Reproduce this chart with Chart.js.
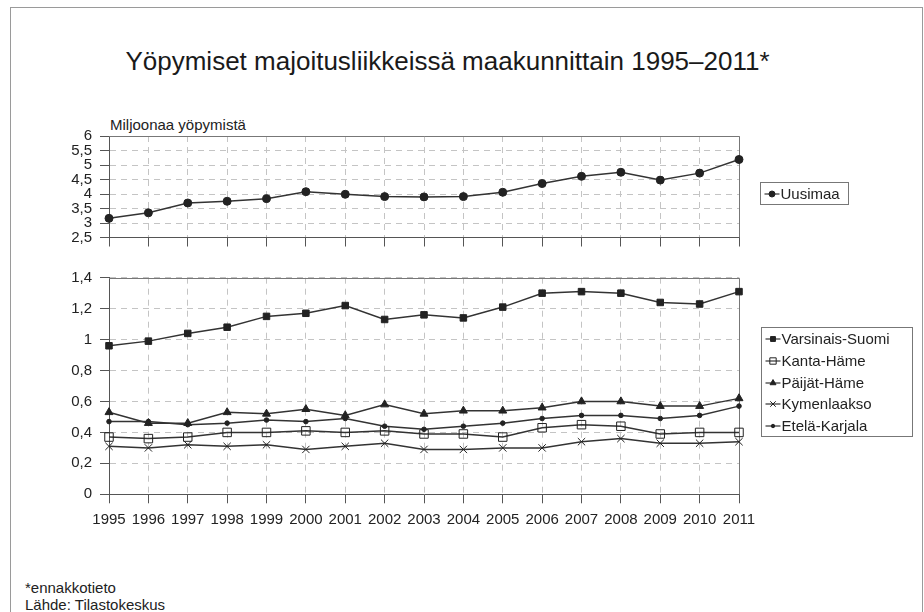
<!DOCTYPE html>
<html>
<head>
<meta charset="utf-8">
<script src="https://cdn.jsdelivr.net/npm/chart.js@4.4.1/dist/chart.umd.min.js"></script>
<style>
  html, body { margin: 0; padding: 0; background: #fff; }
  body { width: 924px; height: 612px; position: relative; overflow: hidden;
         font-family: "Liberation Sans", Arial, sans-serif; color: #222; }
  #frame { position: absolute; left: 10px; top: 7px; width: 913px; height: 640px;
           border: 1px solid #9a9a9a; box-sizing: border-box; }
  #title { position: absolute; left: 0; width: 895px; top: 48px; text-align: center;
           font-size: 26px; line-height: 26px; white-space: nowrap; color: #1a1a1a; }
  #unit { position: absolute; left: 110px; top: 117px; font-size: 15px; line-height: 15px; }
  #notes { position: absolute; left: 25px; top: 580px; font-size: 15px; line-height: 16.5px; }
  canvas { position: absolute; left: 0; top: 0; }
</style>
</head>
<body>
<div id="frame"></div>
<div id="title">Yöpymiset majoitusliikkeissä maakunnittain 1995–2011*</div>
<div id="unit">Miljoonaa yöpymistä</div>
<div style="position:absolute;left:0;top:100px;width:924px;height:160px">
  <canvas id="topChart" width="924" height="160"></canvas>
</div>
<div style="position:absolute;left:0;top:260px;width:924px;height:280px">
  <canvas id="bottomChart" width="924" height="280"></canvas>
</div>
<div id="notes">*ennakkotieto<br>Lähde: Tilastokeskus</div>

<script>
// years on the x axis
const years = ['1995', '1996', '1997', '1998', '1999', '2000', '2001', '2002', '2003',
               '2004', '2005', '2006', '2007', '2008', '2009', '2010', '2011'];

// millions of overnight stays
const uusimaa = [3.16, 3.35, 3.69, 3.75, 3.84, 4.08, 3.99, 3.91, 3.90, 3.91, 4.06, 4.36, 4.61, 4.75, 4.48, 4.72, 5.19];
const varsinaisSuomi = [0.96, 0.99, 1.04, 1.08, 1.15, 1.17, 1.22, 1.13, 1.16, 1.14, 1.21, 1.30, 1.31, 1.30, 1.24, 1.23, 1.31];
const kantaHame = [0.37, 0.36, 0.37, 0.40, 0.40, 0.41, 0.40, 0.41, 0.39, 0.39, 0.37, 0.43, 0.45, 0.44, 0.39, 0.40, 0.40];
const paijatHame = [0.53, 0.46, 0.46, 0.53, 0.52, 0.55, 0.51, 0.58, 0.52, 0.54, 0.54, 0.56, 0.60, 0.60, 0.57, 0.57, 0.62];
const kymenlaakso = [0.31, 0.30, 0.32, 0.31, 0.32, 0.29, 0.31, 0.33, 0.29, 0.29, 0.30, 0.30, 0.34, 0.36, 0.33, 0.33, 0.34];
const etelaKarjala = [0.47, 0.47, 0.45, 0.46, 0.48, 0.47, 0.49, 0.44, 0.42, 0.44, 0.46, 0.49, 0.51, 0.51, 0.49, 0.51, 0.57];

// y tick labels (Finnish decimal comma)
const topTickLabels = ['2,5', '3', '3,5', '4', '4,5', '5', '5,5', '6'];
const bottomTickLabels = ['0', '0,2', '0,4', '0,6', '0,8', '1', '1,2', '1,4'];

const FONT = '"Liberation Sans", Arial, sans-serif';
const LINE = '#333';
const GRID = '#c4c4c4';
const AXIS = '#555';

// solid top and right edge of the plot area
const plotFrame = {
    id: 'plotFrame',
    beforeDatasetsDraw(chart) {
        const { ctx, chartArea: a } = chart;
        const t = Math.round(a.top) + 0.5, r = Math.round(a.right) + 0.5;
        ctx.save();
        ctx.strokeStyle = '#777';
        ctx.lineWidth = 1;
        ctx.beginPath();
        ctx.moveTo(a.left, t);
        ctx.lineTo(r, t);
        ctx.lineTo(r, a.bottom);
        ctx.stroke();
        ctx.restore();
    }
};

// legend drawn in a box to the right, like the original
const boxLegend = {
    id: 'boxLegend',
    afterDraw(chart, args, opts) {
        const ctx = chart.ctx;
        const x = Math.round(chart.chartArea.right + opts.gap) + 0.5;
        const y = opts.top + 0.5;
        const sets = chart.data.datasets;
        ctx.save();
        ctx.strokeStyle = '#777';
        ctx.lineWidth = 1;
        ctx.strokeRect(x, y, opts.width, sets.length * opts.rowHeight + 1);
        ctx.font = '15px ' + FONT;
        ctx.textBaseline = 'middle';
        sets.forEach((d, i) => {
            const cy = Math.round(y + 1 + opts.rowHeight * (i + 0.5));
            ctx.strokeStyle = LINE;
            ctx.lineWidth = 1.2;
            ctx.beginPath();
            ctx.moveTo(x + 4, cy);
            ctx.lineTo(x + 19, cy);
            ctx.stroke();
            ctx.fillStyle = d.pointBackgroundColor;
            ctx.strokeStyle = d.pointBorderColor;
            ctx.lineWidth = 1;
            if (Chart.helpers && Chart.helpers.drawPoint) {
                Chart.helpers.drawPoint(ctx, {
                    pointStyle: d.pointStyle, radius: d.pointRadius * 0.75,
                    borderWidth: 1, rotation: 0
                }, x + 11.5, cy);
            }
            ctx.fillStyle = '#222';
            ctx.fillText(d.label, x + 20, cy + 1);
        });
        ctx.restore();
    }
};

function series(label, data, style, radius, fill) {
    return {
        label: label,
        data: data,
        borderColor: LINE,
        borderWidth: 1.5,
        tension: 0,
        clip: false,
        pointStyle: style,
        pointRadius: radius,
        pointHoverRadius: radius,
        pointBorderWidth: 1,
        pointBorderColor: '#222',
        pointBackgroundColor: fill
    };
}

function scales(min, max, step, labels, showX, xHeight) {
    return {
        x: {
            afterFit: s => { s.height = xHeight; },
            grid: { color: GRID, tickLength: 9, tickColor: AXIS, tickWidth: 1 },
            border: { color: AXIS, dash: [6, 5] },
            ticks: {
                display: showX, color: '#222', padding: 8, maxRotation: 0, autoSkip: false,
                font: { family: FONT, size: 15 }
            }
        },
        y: {
            min: min, max: max,
            afterFit: s => { s.width = 109; },
            grid: { color: GRID, tickLength: 9, tickColor: AXIS, tickWidth: 1 },
            border: { color: AXIS, dash: [6, 5] },
            ticks: {
                stepSize: step, color: '#222', padding: 8, autoSkip: false,
                font: { family: FONT, size: 15 },
                callback: (value, index) => labels[index]
            }
        }
    };
}

const topCtx = document.getElementById('topChart').getContext('2d');
const bottomCtx = document.getElementById('bottomChart').getContext('2d');

// Upper panel: Uusimaa
new Chart(topCtx, {
    type: 'line',
    data: {
        labels: years,
        datasets: [series('Uusimaa', uusimaa, 'circle', 4, '#222')]
    },
    options: {
        responsive: false,
        animation: false,
        layout: { padding: { top: 36, right: 185, bottom: 13.5, left: 0 } },
        scales: scales(2.5, 6, 0.5, topTickLabels, false, 9),
        plugins: {
            legend: { display: false },
            tooltip: { enabled: false },
            boxLegend: { gap: 21, top: 82, width: 88, rowHeight: 21 }
        }
    },
    plugins: [plotFrame, boxLegend]
});

// Lower panel: the other regions
new Chart(bottomCtx, {
    type: 'line',
    data: {
        labels: years,
        datasets: [
            series('Varsinais-Suomi', varsinaisSuomi, 'rect', 4.6, '#222'),
            series('Kanta-Häme', kantaHame, 'rect', 6, 'rgba(255,255,255,0)'),
            series('Päijät-Häme', paijatHame, 'triangle', 4.6, '#222'),
            series('Kymenlaakso', kymenlaakso, 'crossRot', 5.2, '#222'),
            series('Etelä-Karjala', etelaKarjala, 'circle', 2.3, '#222')
        ]
    },
    options: {
        responsive: false,
        animation: false,
        layout: { padding: { top: 17.7, right: 185, bottom: 11.7, left: 0 } },
        scales: scales(0, 1.4, 0.2, bottomTickLabels, true, 34),
        plugins: {
            legend: { display: false },
            tooltip: { enabled: false },
            boxLegend: { gap: 22, top: 67, width: 151, rowHeight: 21.6 }
        }
    },
    plugins: [plotFrame, boxLegend]
});
</script>
</body>
</html>
